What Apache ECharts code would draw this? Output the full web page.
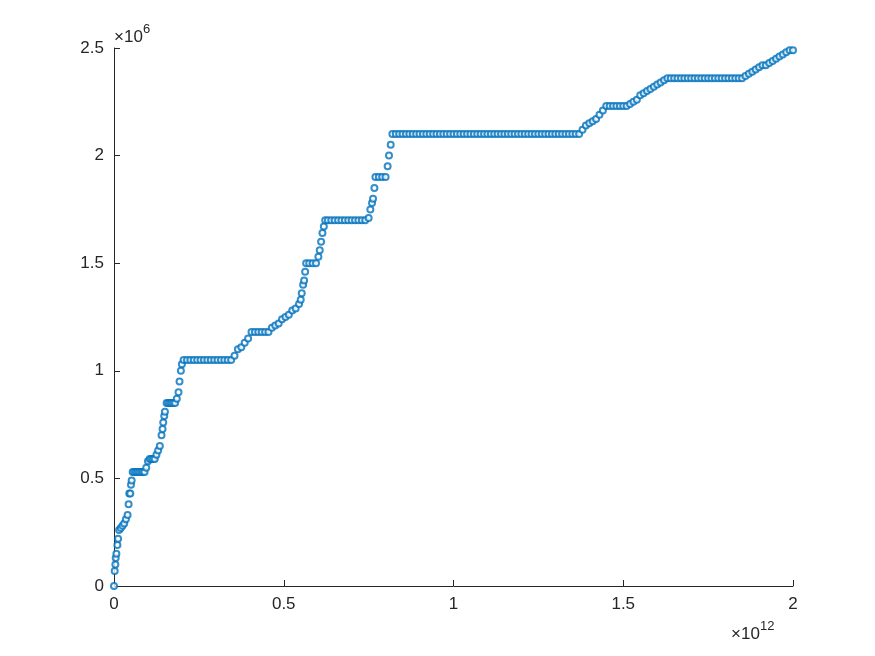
<!DOCTYPE html>
<html>
<head>
<meta charset="utf-8">
<script src="https://cdn.jsdelivr.net/npm/echarts@6/dist/echarts.min.js"></script>
<style>html,body{margin:0;padding:0;background:#fff}#c{width:875px;height:656px}</style>
</head>
<body>
<div id="c"></div>
<script>
// x in units of 1e12, y in units of 1e6
const xTicks = [0, 0.5, 1, 1.5, 2]
const yTicks = [0, 0.5, 1, 1.5, 2, 2.5]
const points = [
  [0, 0], [0.002, 0.07], [0.004, 0.1], [0.005, 0.13], [0.007, 0.15], [0.01, 0.19], [0.012, 0.22],
  [0.015, 0.26], [0.02, 0.27], [0.025, 0.28], [0.03, 0.29], [0.035, 0.31], [0.04, 0.33],
  [0.043, 0.38], [0.045, 0.43], [0.048, 0.43], [0.05, 0.47], [0.052, 0.49], [0.055, 0.53],
  [0.06, 0.53], [0.065, 0.53], [0.07, 0.53], [0.075, 0.53], [0.08, 0.53], [0.085, 0.53], [0.09, 0.53],
  [0.095, 0.55], [0.1, 0.58], [0.105, 0.59], [0.11, 0.59], [0.115, 0.59], [0.12, 0.59],
  [0.125, 0.61], [0.13, 0.63], [0.135, 0.65], [0.14, 0.7], [0.143, 0.73], [0.145, 0.76],
  [0.148, 0.79], [0.15, 0.81], [0.155, 0.85], [0.16, 0.85], [0.165, 0.85], [0.17, 0.85], [0.175, 0.85],
  [0.18, 0.85], [0.185, 0.87], [0.19, 0.9], [0.193, 0.95], [0.197, 1.0], [0.2, 1.03], [0.205, 1.05],
  [0.215, 1.05], [0.225, 1.05], [0.235, 1.05], [0.245, 1.05], [0.255, 1.05], [0.265, 1.05], [0.275, 1.05],
  [0.285, 1.05], [0.295, 1.05], [0.305, 1.05], [0.315, 1.05], [0.325, 1.05], [0.335, 1.05], [0.345, 1.05],
  [0.355, 1.07], [0.365, 1.1], [0.375, 1.11], [0.385, 1.13], [0.395, 1.15], [0.405, 1.18],
  [0.415, 1.18], [0.425, 1.18], [0.435, 1.18], [0.445, 1.18], [0.455, 1.18], [0.465, 1.2],
  [0.475, 1.21], [0.485, 1.22], [0.495, 1.24], [0.505, 1.25], [0.515, 1.26], [0.525, 1.28],
  [0.535, 1.29], [0.545, 1.31], [0.55, 1.33], [0.553, 1.36], [0.557, 1.4], [0.56, 1.42],
  [0.563, 1.46], [0.566, 1.5], [0.575, 1.5], [0.585, 1.5], [0.595, 1.5], [0.602, 1.53],
  [0.606, 1.56], [0.61, 1.6], [0.614, 1.64], [0.618, 1.67], [0.622, 1.7], [0.63, 1.7], [0.64, 1.7],
  [0.65, 1.7], [0.66, 1.7], [0.67, 1.7], [0.68, 1.7], [0.69, 1.7], [0.7, 1.7], [0.71, 1.7], [0.72, 1.7],
  [0.73, 1.7], [0.74, 1.7], [0.75, 1.71], [0.755, 1.75], [0.76, 1.78], [0.763, 1.8], [0.767, 1.85],
  [0.77, 1.9], [0.78, 1.9], [0.79, 1.9], [0.8, 1.9], [0.806, 1.95], [0.81, 2.0], [0.815, 2.05],
  [0.82, 2.1], [0.83, 2.1], [0.84, 2.1], [0.85, 2.1], [0.86, 2.1], [0.87, 2.1], [0.88, 2.1], [0.89, 2.1],
  [0.9, 2.1], [0.91, 2.1], [0.92, 2.1], [0.93, 2.1], [0.94, 2.1], [0.95, 2.1], [0.96, 2.1], [0.97, 2.1],
  [0.98, 2.1], [0.99, 2.1], [1.0, 2.1], [1.01, 2.1], [1.02, 2.1], [1.03, 2.1], [1.04, 2.1], [1.05, 2.1],
  [1.06, 2.1], [1.07, 2.1], [1.08, 2.1], [1.09, 2.1], [1.1, 2.1], [1.11, 2.1], [1.12, 2.1], [1.13, 2.1],
  [1.14, 2.1], [1.15, 2.1], [1.16, 2.1], [1.17, 2.1], [1.18, 2.1], [1.19, 2.1], [1.2, 2.1], [1.21, 2.1],
  [1.22, 2.1], [1.23, 2.1], [1.24, 2.1], [1.25, 2.1], [1.26, 2.1], [1.27, 2.1], [1.28, 2.1], [1.29, 2.1],
  [1.3, 2.1], [1.31, 2.1], [1.32, 2.1], [1.33, 2.1], [1.34, 2.1], [1.35, 2.1], [1.36, 2.1], [1.37, 2.1],
  [1.38, 2.12], [1.39, 2.14], [1.4, 2.15], [1.41, 2.16], [1.42, 2.17], [1.43, 2.19], [1.44, 2.21],
  [1.45, 2.23], [1.46, 2.23], [1.47, 2.23], [1.48, 2.23], [1.49, 2.23], [1.5, 2.23], [1.51, 2.23],
  [1.52, 2.24], [1.53, 2.25], [1.54, 2.26], [1.55, 2.28], [1.56, 2.29], [1.57, 2.3], [1.58, 2.31],
  [1.59, 2.32], [1.6, 2.33], [1.61, 2.34], [1.62, 2.35], [1.63, 2.36], [1.64, 2.36], [1.65, 2.36],
  [1.66, 2.36], [1.67, 2.36], [1.68, 2.36], [1.69, 2.36], [1.7, 2.36], [1.71, 2.36], [1.72, 2.36],
  [1.73, 2.36], [1.74, 2.36], [1.75, 2.36], [1.76, 2.36], [1.77, 2.36], [1.78, 2.36], [1.79, 2.36],
  [1.8, 2.36], [1.81, 2.36], [1.82, 2.36], [1.83, 2.36], [1.84, 2.36], [1.85, 2.36], [1.86, 2.37],
  [1.87, 2.38], [1.88, 2.39], [1.89, 2.4], [1.9, 2.41], [1.91, 2.42], [1.92, 2.42], [1.93, 2.43],
  [1.94, 2.44], [1.95, 2.45], [1.96, 2.46], [1.97, 2.47], [1.98, 2.48], [1.99, 2.49], [2.0, 2.49]
]

const chart = echarts.init(document.getElementById('c'))
const txt = { color: '#262626', fontSize: 17, fontFamily: 'Liberation Sans, Arial' }
chart.setOption({
  animation: false,
  grid: { left: 114, right: 82, top: 48, bottom: 70 },
  xAxis: {
    type: 'value', min: 0, max: 2, interval: 0.5,
    axisLine: { lineStyle: { color: '#262626' } },
    axisTick: { inside: true, length: 6, lineStyle: { color: '#262626' } },
    axisLabel: Object.assign({ margin: 10, formatter: v => String(v) }, txt),
    splitLine: { show: false }
  },
  yAxis: {
    type: 'value', min: 0, max: 2.5, interval: 0.5,
    axisLine: { show: true, lineStyle: { color: '#262626' } },
    axisTick: { show: true, inside: true, length: 6, lineStyle: { color: '#262626' } },
    axisLabel: Object.assign({ margin: 10, formatter: v => String(v) }, txt),
    splitLine: { show: false }
  },
  graphic: [
    { type: 'text', left: 114, top: 29, style: { text: '×10', fill: '#262626', font: '17px Liberation Sans' } },
    { type: 'text', left: 143, top: 23, style: { text: '6', fill: '#262626', font: '13px Liberation Sans' } },
    { type: 'text', left: 731, top: 626, style: { text: '×10', fill: '#262626', font: '17px Liberation Sans' } },
    { type: 'text', left: 760, top: 620, style: { text: '12', fill: '#262626', font: '13px Liberation Sans' } }
  ],
  series: [{
    type: 'scatter',
    data: points,
    symbol: 'emptyCircle',
    symbolSize: 6,
    itemStyle: { color: '#0072BD', borderColor: '#0072BD', borderWidth: 2 }
  }]
})
</script>
</body>
</html>
